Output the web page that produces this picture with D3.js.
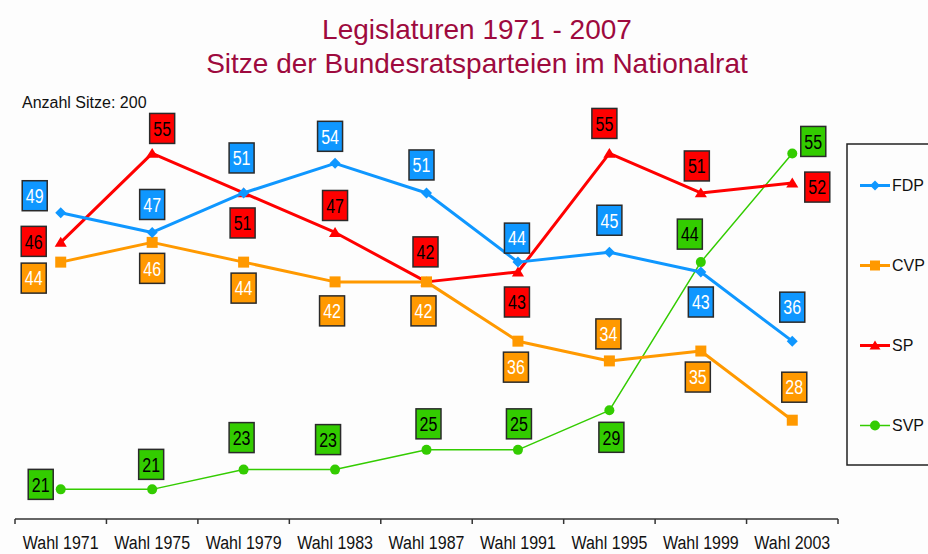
<!DOCTYPE html>
<html>
<head>
<meta charset="utf-8">
<script src="https://cdn.jsdelivr.net/npm/d3@7"></script>
<style>
  html, body { margin: 0; padding: 0; background: #fdfdfd; }
  svg { display: block; }
</style>
</head>
<body>
<script>
// ---------------- data ----------------
const years = ["Wahl 1971", "Wahl 1975", "Wahl 1979", "Wahl 1983", "Wahl 1987", "Wahl 1991", "Wahl 1995", "Wahl 1999", "Wahl 2003"];
const seriesNames = ["FDP", "CVP", "SP", "SVP"];
const fdp = [49, 47, 51, 54, 51, 44, 45, 43, 36];
const cvp = [44, 46, 44, 42, 42, 36, 34, 35, 28];
const sp  = [46, 55, 51, 47, 42, 43, 55, 51, 52];
const svp = [21, 21, 23, 23, 25, 25, 29, 44, 55];
const titleLines = ["Legislaturen 1971 - 2007", "Sitze der Bundesratsparteien im Nationalrat"];
const noteText = "Anzahl Sitze: 200";

// ---------------- style / layout config ----------------
const W = 928, H = 554;
const font = "'Liberation Sans', Arial, sans-serif";
const styles = {
  FDP: { color: "#0f97ff", width: 3, marker: "diamond", text: "#ffffff" },
  CVP: { color: "#ff9900", width: 3, marker: "square", text: "#ffffff" },
  SP:  { color: "#ff0000", width: 3, marker: "triangle", text: "#000000" },
  SVP: { color: "#33cc00", width: 1.5, marker: "circle", text: "#000000" }
};
// label box centre offsets relative to each point (dx, dy)
const labelOffsets = {
  FDP: [[-26,-17],[0,-28],[-2,-35],[-5,-27],[-5,-28],[-1,-24],[0,-32],[0,30],[0,-34]],
  CVP: [[-27,16],[0,26],[0,26],[-3,29],[-3,29],[-2,26],[-1,-27],[-3,26],[2,-33]],
  SP:  [[-27,-1],[10,-25],[-1,30],[0,-27],[-1,-30],[-1,30],[-5,-30],[-4,-27],[25,4]],
  SVP: [[-20,-5],[-1,-25],[-2,-32],[-7,-30],[2,-26],[1,-26],[2,27],[-11,-28],[21,-12]]
};

const seriesValues = { FDP: fdp, CVP: cvp, SP: sp, SVP: svp };

const svg = d3.select("body").append("svg")
  .attr("width", W).attr("height", H)
  .style("background", "#fdfdfd");

// scales
const x = d3.scaleBand().domain(years).range([15, 838]).padding(0);
const y = d3.scaleLinear().domain([18, 58]).range([519, 123.8]);
const cx = d => x(d) + x.bandwidth() / 2;

// title
svg.append("g").selectAll("text").data(titleLines).join("text")
  .attr("x", 477).attr("y", (d, i) => 39 + i * 34)
  .attr("text-anchor", "middle")
  .attr("font-family", font)
  .attr("font-size", 28)
  .attr("fill", "#9e0a3e")
  .text(d => d);

svg.append("text")
  .attr("x", 22).attr("y", 108)
  .attr("font-family", font)
  .attr("font-size", 16)
  .attr("fill", "#111")
  .text(noteText);

// axis
const axisG = svg.append("g").attr("transform", `translate(0,519)`);
axisG.append("line").attr("x1", 15).attr("x2", 838).attr("y1", 0).attr("y2", 0)
  .attr("stroke", "#333").attr("stroke-width", 1.5);
const bounds = years.map(d => x(d)).concat([x.range()[1]]);
axisG.selectAll("line.tick").data(bounds).join("line").attr("class", "tick")
  .attr("x1", d => d).attr("x2", d => d).attr("y1", 0).attr("y2", 5)
  .attr("stroke", "#333").attr("stroke-width", 1.5);
const xAxis = d3.axisBottom(x).tickSize(0).tickPadding(0);
const xa = axisG.append("g").call(xAxis);
xa.select(".domain").remove();
xa.selectAll("text")
  .attr("y", 0).attr("dy", 0)
  .attr("transform", "translate(0,30) scale(1,1.13)")
  .attr("font-family", font)
  .attr("font-size", 16)
  .attr("fill", "#111");

function markerPath(type, s) {
  switch (type) {
    case "diamond": return `M0,${-s}L${s},0L0,${s}L${-s},0Z`;
    case "square": return `M${-s},${-s}H${s}V${s}H${-s}Z`;
    case "triangle": return `M0,${-s}L${s*1.1},${s*0.8}L${-s*1.1},${s*0.8}Z`;
    default: return d3.symbol(d3.symbolCircle, Math.PI * s * s)();
  }
}

const line = d3.line().x((d, i) => cx(years[i])).y(d => y(d));

// draw series
seriesNames.slice().reverse().forEach(name => {
  const st = styles[name];
  const vals = seriesValues[name];
  const g = svg.append("g");
  g.append("path").datum(vals)
    .attr("d", line)
    .attr("fill", "none")
    .attr("stroke", st.color)
    .attr("stroke-width", st.width)
    .attr("stroke-linejoin", "round");
  g.selectAll("path.m").data(vals).join("path").attr("class", "m")
    .attr("transform", (d, i) => `translate(${cx(years[i])},${y(d)})`)
    .attr("d", markerPath(st.marker, st.marker === "circle" ? 5 : 5.5))
    .attr("fill", st.color);
});

// labels
const bw = 25, bh = 30;
seriesNames.forEach(name => {
  const st = styles[name];
  const vals = seriesValues[name];
  const offs = labelOffsets[name];
  const g = svg.append("g");
  const lg = g.selectAll("g").data(vals).join("g")
    .attr("transform", (d, i) => `translate(${cx(years[i]) + offs[i][0]},${y(d) + offs[i][1]})`);
  lg.append("rect")
    .attr("x", -bw / 2).attr("y", -bh / 2).attr("width", bw).attr("height", bh)
    .attr("fill", st.color).attr("stroke", "#2a2a2a").attr("stroke-width", 1.5);
  lg.append("text")
    .attr("text-anchor", "middle").attr("y", 5.8)
    .attr("transform", "scale(1,1.25)")
    .attr("font-family", font)
    .attr("font-size", 16)
    .attr("fill", st.text)
    .text(d => d);
});

// legend
const lgd = svg.append("g");
lgd.append("rect").attr("x", 847).attr("y", 144).attr("width", 100).attr("height", 321)
  .attr("fill", "none").attr("stroke", "#222").attr("stroke-width", 1.5);
const items = lgd.selectAll("g").data(seriesNames).join("g")
  .attr("transform", (d, i) => `translate(860,${185.5 + i * 80})`);
items.append("line").attr("x1", 0).attr("x2", 30).attr("y1", 0).attr("y2", 0)
  .attr("stroke", d => styles[d].color).attr("stroke-width", d => styles[d].width);
items.append("path").attr("transform", "translate(15,0)")
  .attr("d", d => markerPath(styles[d].marker, 5))
  .attr("fill", d => styles[d].color);
items.append("text").attr("x", 32).attr("y", 5.5)
  .attr("transform", "scale(1,1.08)")
  .attr("font-family", font)
  .attr("font-size", 16)
  .attr("fill", "#111")
  .text(d => d);
</script>
</body>
</html>
